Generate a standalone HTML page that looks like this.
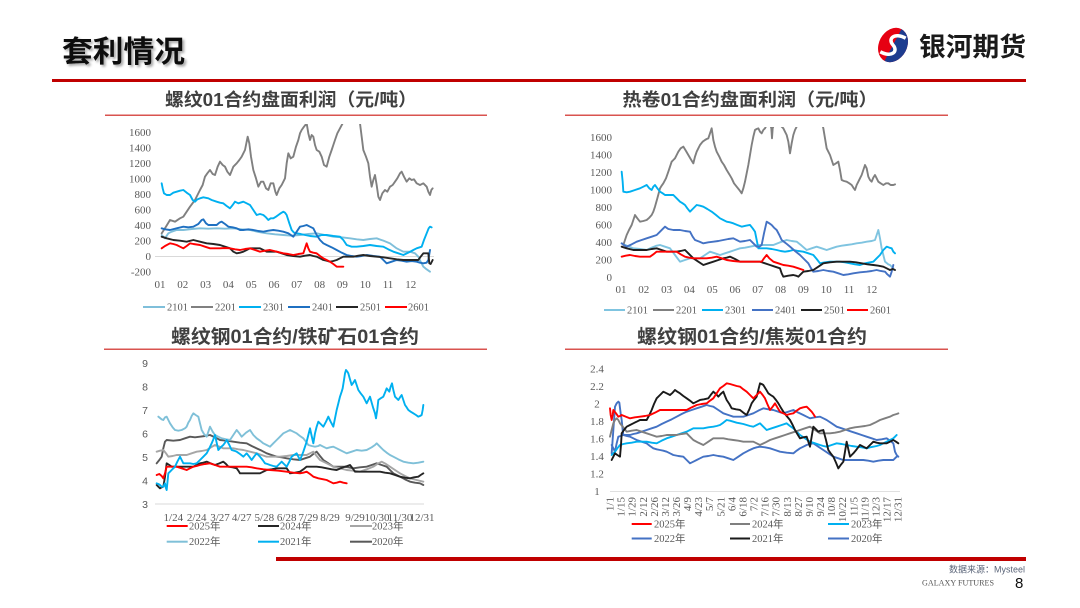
<!DOCTYPE html>
<html><head><meta charset="utf-8">
<style>
html,body{margin:0;padding:0;background:#fff;}
body{width:1080px;height:608px;overflow:hidden;}
svg{display:block;}
.ln polyline{fill:none;stroke-width:1.9;vector-effect:non-scaling-stroke;stroke-linejoin:round;stroke-linecap:round;}
.ax{font-family:"Liberation Serif","Noto Serif CJK SC",serif;font-size:11px;fill:#595959;}
.axs{font-family:"Liberation Sans",sans-serif;font-size:10.5px;fill:#595959;}
.lg{font-family:"Liberation Serif","Noto Sans CJK SC",serif;font-size:10.5px;fill:#595959;}
.st{font-family:"Liberation Sans","Noto Sans CJK SC",sans-serif;font-weight:bold;fill:#404040;}
</style></head>
<body>
<svg width="1080" height="608" viewBox="0 0 1080 608" xmlns="http://www.w3.org/2000/svg">
<defs>
<clipPath id="c1" clipPathUnits="userSpaceOnUse"><rect x="140" y="124" width="305" height="166"/></clipPath>
<clipPath id="c2" clipPathUnits="userSpaceOnUse"><rect x="600" y="127" width="305" height="170"/></clipPath>
<filter id="sh" x="-10%" y="-10%" width="130%" height="140%"><feDropShadow dx="2" dy="2" stdDeviation="1.2" flood-color="#000" flood-opacity="0.35"/></filter>
</defs>

<!-- Header -->
<text x="62" y="62" font-family="Liberation Sans, Noto Sans CJK SC, sans-serif" font-weight="bold" font-size="30" fill="#111" filter="url(#sh)" textLength="123" lengthAdjust="spacingAndGlyphs">套利情况</text>
<g transform="translate(893,45) rotate(28)">
  <ellipse rx="14" ry="18" fill="#E60012"/>
  <path d="M0,-18 A14,18 0 0,1 0,18 Z" fill="#1D3C8F"/>
  <path d="M8,-12 C-5,-12 -8,-3 0,0 C8,3 5,12 -8,12" stroke="#fff" stroke-width="3.5" fill="none"/>
</g>
<text x="919" y="56" font-family="Liberation Sans, Noto Sans CJK SC, sans-serif" font-weight="bold" font-size="26" fill="#1a1a1a" textLength="107" lengthAdjust="spacingAndGlyphs">银河期货</text>
<rect x="52" y="79" width="974" height="3" fill="#C00000"/>

<!-- Subtitles -->
<text class="st" x="291" y="106" font-size="18" text-anchor="middle" textLength="252" lengthAdjust="spacingAndGlyphs">螺纹01合约盘面利润（元/吨）</text>
<rect x="105" y="114.5" width="382" height="1.5" fill="#D9534F"/>
<text class="st" x="750" y="106" font-size="18" text-anchor="middle" textLength="255" lengthAdjust="spacingAndGlyphs">热卷01合约盘面利润（元/吨）</text>
<rect x="565" y="114.5" width="383" height="1.5" fill="#D9534F"/>
<text class="st" x="295" y="343" font-size="19" text-anchor="middle" textLength="248" lengthAdjust="spacingAndGlyphs">螺纹钢01合约/铁矿石01合约</text>
<rect x="104" y="348.5" width="383" height="1.5" fill="#D9534F"/>
<text class="st" x="752" y="343" font-size="19" text-anchor="middle" textLength="230" lengthAdjust="spacingAndGlyphs">螺纹钢01合约/焦炭01合约</text>
<rect x="565" y="348.5" width="383" height="1.5" fill="#D9534F"/>

<!-- ===== Chart 1: top-left ===== -->
<g class="ax" text-anchor="end">
<text x="151" y="136">1600</text><text x="151" y="151.5">1400</text><text x="151" y="167">1200</text><text x="151" y="182.5">1000</text><text x="151" y="198">800</text><text x="151" y="213.5">600</text><text x="151" y="229">400</text><text x="151" y="244.5">200</text><text x="151" y="260">0</text><text x="151" y="275.5">-200</text>
</g>
<g class="ax" text-anchor="middle">
<text x="160" y="288">01</text><text x="182.8" y="288">02</text><text x="205.6" y="288">03</text><text x="228.4" y="288">04</text><text x="251.2" y="288">05</text><text x="274" y="288">06</text><text x="296.8" y="288">07</text><text x="319.6" y="288">08</text><text x="342.4" y="288">09</text><text x="365.2" y="288">10</text><text x="388" y="288">11</text><text x="410.8" y="288">12</text>
</g>
<rect x="155" y="256" width="279" height="1" fill="#D9D9D9"/>
<g clip-path="url(#c1)"><g class="ln" transform="translate(150,120) scale(0.33333)">
<polyline stroke="#7FBFDA" points="35,345 45,355 55,340 65,335 80,330 100,330 125,327 150,325 175,326 200,325 225,326 250,325 275,328 300,330 325,336 350,340 375,343 400,345 425,347 450,345 475,342 500,340 525,345 550,350 575,352 600,355 620,358 640,360 660,357 680,355 700,362 720,370 740,385 760,395 780,395 795,400 805,410 812,425 820,440 830,448 840,455"/>
<polyline stroke="#808080" points="35,340 48,320 60,300 75,305 90,295 100,290 110,275 120,260 135,240 150,210 158,195 165,170 172,160 180,150 188,162 195,165 203,140 210,125 218,135 225,140 232,155 240,165 250,140 260,130 268,120 275,110 280,100 285,90 293,50 298,70 303,110 310,150 318,175 325,200 333,185 340,185 348,205 355,210 362,190 370,190 376,215 380,225 388,205 395,195 400,185 405,175 410,130 415,100 422,115 430,110 438,80 445,60 450,40 455,30 462,20 470,10 475,40 480,60 485,45 490,50 495,75 500,90 508,95 515,110 522,135 530,140 538,110 545,90 550,75 555,60 562,40 570,25 578,10 585,0 595,-30 610,-20 625,-5 630,10 635,50 640,90 648,110 655,130 660,170 665,200 670,180 675,165 680,195 685,230 690,240 697,220 705,210 712,215 720,200 728,195 735,185 742,175 750,160 755,155 762,170 770,185 778,175 785,180 792,178 800,190 810,195 820,190 830,200 835,215 840,225 844,210 848,205"/>
<polyline stroke="#00B0F0" points="35,190 38,205 42,220 50,225 60,225 70,218 80,215 90,212 100,210 110,218 120,225 128,240 135,245 142,238 150,235 160,232 175,235 185,240 200,245 210,248 220,250 230,258 240,265 248,255 255,245 265,250 280,245 290,250 300,255 310,270 320,285 330,282 340,285 348,292 355,300 362,295 370,295 378,290 385,285 392,280 400,275 405,278 410,285 418,310 425,330 432,338 440,340 452,342 465,345 480,348 500,350 515,345 530,345 550,348 570,350 580,360 590,375 605,380 620,380 640,378 660,375 680,378 700,380 715,388 730,395 745,400 760,405 775,398 790,390 800,385 815,380 822,360 830,340 836,325 840,320 845,322"/>
<polyline stroke="#1F70C1" points="35,325 45,328 60,330 80,325 100,320 115,322 130,320 145,312 155,300 160,298 168,310 175,315 185,315 200,315 208,308 215,305 225,312 235,320 248,322 260,325 270,330 280,330 295,328 310,330 325,333 340,335 355,332 370,330 385,332 400,335 415,340 430,350 440,335 450,320 460,318 470,315 480,320 490,325 500,345 510,360 520,370 530,375 545,382 560,390 575,398 590,405 605,408 620,410 635,408 650,405 670,408 690,410 700,420 710,430 725,425 740,420 755,422 770,425 785,423 800,425 810,428 820,430 830,428 835,420 840,390"/>
<polyline stroke="#262626" points="35,350 50,355 70,360 90,362 110,365 130,360 150,365 170,370 190,372 210,375 225,380 240,385 250,395 260,400 270,398 280,395 290,390 300,385 315,385 330,385 340,390 350,395 365,395 380,395 395,400 410,405 430,408 450,410 465,407 480,405 490,408 500,410 510,415 520,420 530,422 540,425 550,423 560,420 570,415 580,410 595,410 610,410 625,407 640,405 660,408 680,410 700,412 720,415 740,418 760,420 775,420 790,420 805,420 812,410 820,400 828,400 835,400 838,430 842,432 848,420"/>
<polyline stroke="#FF0000" points="35,385 45,378 60,370 70,372 80,375 90,380 100,385 110,378 120,370 130,372 150,375 165,380 180,385 195,385 210,385 225,384 240,385 255,388 270,390 285,387 300,385 315,390 330,395 345,392 360,390 380,395 400,400 415,402 430,405 445,402 460,400 465,385 470,370 475,385 480,395 490,398 500,400 510,408 520,415 530,420 540,425 550,432 560,440 570,440 580,440"/>
</g></g>
<g class="lg">
<rect x="143" y="306" width="22" height="2" fill="#7FBFDA"/><text x="167" y="310.5">2101</text>
<rect x="191" y="306" width="22" height="2" fill="#808080"/><text x="215" y="310.5">2201</text>
<rect x="239" y="306" width="22" height="2" fill="#00B0F0"/><text x="263" y="310.5">2301</text>
<rect x="288" y="306" width="22" height="2" fill="#1F70C1"/><text x="312" y="310.5">2401</text>
<rect x="336" y="306" width="22" height="2" fill="#262626"/><text x="360" y="310.5">2501</text>
<rect x="385" y="306" width="22" height="2" fill="#FF0000"/><text x="408" y="310.5">2601</text>
</g>

<!-- ===== Chart 2: top-right ===== -->
<g class="ax" text-anchor="end">
<text x="612" y="141">1600</text><text x="612" y="158.5">1400</text><text x="612" y="176">1200</text><text x="612" y="193.5">1000</text><text x="612" y="211">800</text><text x="612" y="228.5">600</text><text x="612" y="246">400</text><text x="612" y="263.5">200</text><text x="612" y="281">0</text>
</g>
<g class="ax" text-anchor="middle">
<text x="621" y="293">01</text><text x="643.8" y="293">02</text><text x="666.6" y="293">03</text><text x="689.4" y="293">04</text><text x="712.2" y="293">05</text><text x="735" y="293">06</text><text x="757.8" y="293">07</text><text x="780.6" y="293">08</text><text x="803.4" y="293">09</text><text x="826.2" y="293">10</text><text x="849" y="293">11</text><text x="871.8" y="293">12</text>
</g>
<g clip-path="url(#c2)"><g class="ln" transform="translate(560,115) scale(0.33333)">
<polyline stroke="#7FC4E0" points="185,385 200,392 220,400 240,402 260,405 275,398 290,392 300,390 315,395 330,400 345,420 360,440 375,435 390,430 405,430 420,430 435,420 450,410 465,415 480,420 495,415 510,410 525,405 540,400 555,398 570,395 585,392 600,390 620,390 640,390 660,382 680,375 695,378 710,380 725,392 740,405 755,400 770,395 785,400 800,405 815,400 830,395 845,392 860,390 875,388 890,385 905,383 920,380 935,378 945,375 950,360 955,345 960,370 965,400 970,420 975,440 985,448 990,450 1000,460"/>
<polyline stroke="#808080" points="190,390 195,375 200,360 207,345 215,330 220,315 225,300 232,310 240,320 250,318 260,315 268,308 275,300 280,290 285,275 292,250 300,220 305,212 310,205 318,190 325,170 330,155 335,140 340,135 345,130 350,120 355,110 362,100 370,95 378,108 385,120 392,132 400,145 405,125 410,110 415,100 420,90 428,80 435,75 440,72 445,70 450,55 455,40 458,60 460,75 465,95 470,110 478,125 485,140 492,150 500,165 508,178 515,190 522,205 530,215 538,225 545,235 550,220 555,200 560,175 565,150 570,120 575,90 580,65 585,45 590,42 595,40 600,50 605,55 610,45 615,40 620,30 628,20 634,40 636,70 638,40 645,20 660,30 670,40 675,50 680,60 685,80 690,115 695,85 700,60 705,45 710,35 720,10 760,0 785,20 790,40 795,70 800,100 805,110 810,120 815,135 820,150 828,145 835,140 840,165 845,195 852,198 860,200 868,205 875,210 880,218 885,225 890,210 895,200 900,190 905,180 910,165 915,150 920,160 925,185 930,195 935,200 940,188 945,180 950,190 955,200 962,205 970,210 978,205 985,205 992,210 1000,210 1005,208"/>
<polyline stroke="#00B0F0" points="185,170 188,200 190,230 200,232 210,230 225,225 240,220 250,215 260,210 268,220 275,225 280,215 285,210 292,220 300,230 308,235 315,240 328,240 340,240 350,250 360,260 368,265 375,270 382,280 390,290 398,282 410,270 420,272 430,275 442,282 455,290 468,300 480,310 490,315 500,320 510,322 520,325 532,330 545,335 558,332 570,330 578,340 585,350 590,375 595,400 605,400 620,400 635,402 650,405 662,408 675,410 688,408 700,405 715,408 730,410 745,415 760,420 770,432 780,445 795,442 810,440 825,440 840,440 855,442 870,445 885,448 900,450 915,445 930,442 940,440 950,430 960,420 970,405 980,395 988,398 995,400 1000,410 1005,415"/>
<polyline stroke="#4472C4" points="185,385 192,390 200,395 215,388 230,380 245,375 260,370 275,365 290,360 300,350 310,340 315,335 325,342 340,345 350,345 360,345 375,348 390,350 398,365 405,375 418,380 430,385 445,382 460,380 475,378 490,375 505,372 520,370 530,375 540,380 555,378 570,375 580,385 590,395 598,395 605,390 612,355 620,320 628,325 635,330 642,338 650,345 658,360 665,375 678,385 690,395 705,408 720,420 732,432 745,445 752,458 760,470 775,468 790,465 805,468 820,470 835,475 850,480 865,478 880,475 900,472 920,470 935,468 950,465 962,468 975,470 982,478 990,485 995,470 1000,450"/>
<polyline stroke="#1F1F1F" points="185,395 200,400 220,405 240,405 260,405 275,402 290,400 305,405 320,410 335,410 350,410 362,408 375,405 385,415 400,430 415,440 430,450 445,445 460,440 475,435 490,430 500,428 510,425 525,432 540,440 555,440 570,440 585,440 600,440 615,445 630,450 645,455 660,460 665,475 670,485 685,482 700,480 708,482 715,485 722,478 730,470 745,468 760,465 775,455 790,445 810,442 830,440 850,440 870,440 888,442 905,445 922,448 940,450 955,452 970,455 980,460 990,465 998,462 1005,465"/>
<polyline stroke="#FF0000" points="185,425 197,422 210,420 225,423 240,425 255,425 270,425 280,418 290,410 305,410 320,410 335,410 350,410 362,418 375,425 388,428 400,430 420,430 440,430 455,428 470,425 485,430 500,435 520,438 540,440 560,440 580,440 595,440 605,440 612,430 620,420 628,430 640,440 655,445 670,450 685,452 700,455 715,460 730,465"/>
</g></g>
<g class="lg">
<rect x="604" y="309" width="21" height="2" fill="#7FC4E0"/><text x="627" y="313.5">2101</text>
<rect x="653" y="309" width="21" height="2" fill="#808080"/><text x="676" y="313.5">2201</text>
<rect x="702" y="309" width="21" height="2" fill="#00B0F0"/><text x="725" y="313.5">2301</text>
<rect x="752" y="309" width="21" height="2" fill="#4472C4"/><text x="775" y="313.5">2401</text>
<rect x="801" y="309" width="21" height="2" fill="#1F1F1F"/><text x="824" y="313.5">2501</text>
<rect x="847" y="309" width="21" height="2" fill="#FF0000"/><text x="870" y="313.5">2601</text>
</g>

<!-- ===== Chart 3: bottom-left ===== -->
<g class="axs" text-anchor="middle">
<text x="145" y="367">9</text><text x="145" y="390.5">8</text><text x="145" y="414">7</text><text x="145" y="437.5">6</text><text x="145" y="461">5</text><text x="145" y="484.5">4</text><text x="145" y="508">3</text>
</g>
<rect x="155" y="503.5" width="269" height="1" fill="#D9D9D9"/>
<g class="ax" text-anchor="middle" font-size="10.5">
<text x="173.3" y="521">1/24</text><text x="196.7" y="521">2/24</text><text x="220" y="521">3/27</text><text x="241.7" y="521">4/27</text><text x="264.3" y="521">5/28</text><text x="286.7" y="521">6/28</text><text x="308.3" y="521">7/29</text><text x="330" y="521">8/29</text><text x="355" y="521">9/29</text><text x="377" y="521">10/30</text><text x="400" y="521">11/30</text><text x="422" y="521">12/31</text>
</g>
<g class="ln" transform="translate(100,320) scale(0.33333)">
<polyline stroke="#595959" points="170,430 178,420 185,410 190,385 195,365 200,360 220,362 240,360 255,355 270,350 285,352 300,350 315,348 330,345 345,352 360,360 380,362 400,365 420,368 440,370 455,378 470,385 485,392 500,400 515,405 530,410 545,412 560,415 580,418 600,420 615,415 630,410 640,402 650,395 660,408 670,420 685,430 700,440 715,440 730,440 745,442 760,445 780,442 800,440 815,435 830,430 845,435 860,440 870,450 880,460 890,465 900,470 915,478 930,485 945,488 960,490 970,495"/>
<polyline stroke="#A6A6A6" points="170,395 180,392 190,390 198,400 205,410 218,408 230,405 245,405 260,405 275,400 290,395 305,393 320,390 333,382 345,375 358,380 370,385 385,385 400,385 415,388 430,390 450,395 470,400 485,405 500,410 520,410 540,410 560,408 580,405 600,405 620,405 630,400 640,395 650,408 660,420 680,430 700,440 720,445 740,450 760,452 780,455 800,448 820,440 835,430 845,425 858,432 870,440 885,450 900,460 915,468 930,475 950,480 970,485"/>
<polyline stroke="#7FC0D8" points="175,290 185,298 190,300 195,292 200,290 205,300 210,310 218,322 225,330 235,332 245,330 255,325 260,320 265,308 270,300 275,288 280,280 287,285 295,290 300,310 305,330 312,342 320,350 325,335 330,320 338,335 345,345 355,350 365,355 378,358 390,360 400,345 410,330 418,340 425,350 438,338 450,330 460,345 470,355 480,362 490,370 500,375 510,380 520,370 530,360 540,350 550,340 560,335 570,330 580,335 590,340 600,348 610,355 618,365 625,375 635,378 645,380 655,378 660,375 670,380 680,385 690,382 700,380 710,385 720,390 730,395 740,400 755,395 770,390 785,392 800,390 815,382 825,375 830,370 840,380 850,390 860,398 870,405 880,410 895,418 910,425 925,428 940,430 955,428 970,425"/>
<polyline stroke="#262626" points="170,495 175,500 180,505 185,502 190,500 195,470 200,430 208,435 215,440 230,440 245,440 260,440 280,440 290,435 300,430 310,428 320,425 332,430 345,435 358,430 370,425 378,432 385,440 398,442 410,445 415,452 420,460 435,460 450,460 465,460 480,460 490,455 500,450 515,448 530,445 545,445 560,445 565,452 570,460 585,458 600,455 610,448 620,440 635,440 650,440 665,442 680,445 695,448 710,450 722,445 735,440 742,438 750,435 758,445 765,455 780,455 800,455 820,455 840,455 855,458 870,460 885,465 900,470 915,473 930,475 942,472 955,470 962,465 970,460"/>
<polyline stroke="#FF0000" points="170,465 178,462 185,468 190,475 195,460 200,440 215,440 230,440 245,445 260,450 270,445 280,440 290,438 300,435 315,432 330,430 345,435 360,440 380,440 400,440 420,440 440,440 455,442 470,445 490,448 510,450 535,452 560,455 580,458 600,460 610,458 620,455 630,462 640,470 655,475 670,478 680,480 690,485 700,490 710,488 720,485 730,488 740,490"/>
<polyline stroke="#00B0F0" points="170,490 175,492 180,495 185,500 190,500 195,490 198,505 200,510 203,480 205,460 210,455 215,450 220,445 225,440 232,425 240,410 245,420 250,430 260,430 270,430 280,432 290,430 300,420 310,410 320,400 328,385 335,370 340,358 345,345 350,368 355,390 362,382 370,375 375,368 380,360 388,375 395,390 402,392 410,395 420,402 430,410 435,405 440,400 448,410 455,420 462,410 470,400 475,405 480,410 488,420 495,430 502,432 510,435 520,438 530,440 538,432 545,425 552,432 560,440 568,425 575,410 582,405 590,400 595,410 600,420 605,408 610,395 615,380 620,365 625,345 630,325 635,348 640,370 645,340 650,320 655,305 662,312 670,320 678,305 685,290 692,305 700,320 705,295 710,270 715,250 720,230 725,215 728,205 732,180 735,160 738,150 742,155 745,160 750,178 755,195 760,188 765,180 770,195 775,210 782,220 790,230 795,240 800,250 805,240 810,230 815,248 820,265 825,280 828,295 832,268 835,240 842,235 850,230 855,218 860,205 864,210 868,215 872,200 876,190 880,210 885,230 890,235 895,240 900,232 905,225 910,240 915,255 920,262 925,270 932,275 940,280 948,285 955,290 960,288 965,285 968,270 970,255"/>
</g>
<g class="lg" font-size="10">
<rect x="166.7" y="525" width="21" height="2" fill="#FF0000"/><text x="189" y="529.5">2025年</text>
<rect x="258" y="525" width="21" height="2" fill="#262626"/><text x="280" y="529.5">2024年</text>
<rect x="350" y="525" width="22" height="2" fill="#A6A6A6"/><text x="372" y="529.5">2023年</text>
<rect x="166.7" y="540.7" width="21" height="2" fill="#7FC0D8"/><text x="189" y="545">2022年</text>
<rect x="258" y="540.7" width="21" height="2" fill="#00B0F0"/><text x="280" y="545">2021年</text>
<rect x="350" y="540.7" width="22" height="2" fill="#595959"/><text x="372" y="545">2020年</text>
</g>

<!-- ===== Chart 4: bottom-right ===== -->
<g class="ax" text-anchor="middle">
<text x="597" y="372.5">2.4</text><text x="597" y="390">2.2</text><text x="597" y="407.6">2</text><text x="597" y="425.1">1.8</text><text x="597" y="442.6">1.6</text><text x="597" y="460.2">1.4</text><text x="597" y="477.7">1.2</text><text x="597" y="495.2">1</text>
</g>
<rect x="610" y="491" width="290" height="1" fill="#E0E0E0"/>
<g class="ax" text-anchor="end" font-size="10">
<text transform="translate(613.5,497) rotate(-90)">1/1</text>
<text transform="translate(624.6,497) rotate(-90)">1/15</text>
<text transform="translate(635.7,497) rotate(-90)">1/29</text>
<text transform="translate(646.8,497) rotate(-90)">2/12</text>
<text transform="translate(657.8,497) rotate(-90)">2/26</text>
<text transform="translate(668.9,497) rotate(-90)">3/12</text>
<text transform="translate(680,497) rotate(-90)">3/26</text>
<text transform="translate(691.1,497) rotate(-90)">4/9</text>
<text transform="translate(702.2,497) rotate(-90)">4/23</text>
<text transform="translate(713.2,497) rotate(-90)">5/7</text>
<text transform="translate(724.3,497) rotate(-90)">5/21</text>
<text transform="translate(735.4,497) rotate(-90)">6/4</text>
<text transform="translate(746.5,497) rotate(-90)">6/18</text>
<text transform="translate(757.5,497) rotate(-90)">7/2</text>
<text transform="translate(768.6,497) rotate(-90)">7/16</text>
<text transform="translate(779.7,497) rotate(-90)">7/30</text>
<text transform="translate(790.8,497) rotate(-90)">8/13</text>
<text transform="translate(801.9,497) rotate(-90)">8/27</text>
<text transform="translate(812.9,497) rotate(-90)">9/10</text>
<text transform="translate(824,497) rotate(-90)">9/24</text>
<text transform="translate(835.1,497) rotate(-90)">10/8</text>
<text transform="translate(846.2,497) rotate(-90)">10/22</text>
<text transform="translate(857.3,497) rotate(-90)">11/5</text>
<text transform="translate(868.3,497) rotate(-90)">11/19</text>
<text transform="translate(879.4,497) rotate(-90)">12/3</text>
<text transform="translate(890.5,497) rotate(-90)">12/17</text>
<text transform="translate(901.6,497) rotate(-90)">12/31</text>
</g>
<g class="ln" transform="translate(560,320) scale(0.33333)">
<polyline stroke="#4472C4" points="155,400 160,330 165,260 170,250 175,245 178,248 182,280 185,300 188,330 190,345 200,345 210,345 220,342 230,340 245,335 260,330 275,325 290,320 305,312 320,305 335,298 350,290 365,282 380,275 395,270 410,265 425,260 440,255 450,258 460,260 475,270 490,280 505,285 520,290 535,290 550,290 565,285 580,280 595,272 610,265 625,268 640,270 655,275 670,280 685,275 700,270 715,278 730,285 740,290 750,295 765,292 780,290 790,295 800,300 815,310 830,320 845,325 860,330 875,335 890,340 905,345 920,350 935,355 950,360 965,358 980,355 990,362 1000,370 1003,385 1005,395 1010,405 1015,410"/>
<polyline stroke="#4472C4" points="155,375 160,385 165,395 170,370 175,350 182,348 190,345 200,348 210,350 220,355 230,360 245,365 260,370 270,378 280,385 290,388 300,390 310,392 320,395 330,400 340,405 355,408 370,410 380,420 390,430 400,425 410,420 420,415 430,410 445,408 460,405 475,408 490,410 505,415 520,420 535,410 550,400 565,392 580,385 590,382 600,380 615,382 630,385 645,390 660,395 680,398 700,400 710,392 720,385 730,380 740,375 750,372 760,370 775,380 790,390 805,400 820,410 835,415 850,420 865,420 880,420 895,420 910,420 925,422 940,425 955,422 970,420 985,420 1000,420 1005,415 1010,410"/>
<polyline stroke="#00B0F0" points="155,405 160,400 165,395 172,385 180,375 190,372 200,370 215,368 230,365 245,365 260,365 275,368 290,370 305,362 320,355 335,350 350,345 365,340 380,335 390,330 400,325 415,325 430,325 445,322 460,320 470,318 480,315 490,308 500,300 510,302 520,305 530,308 540,310 550,312 560,315 570,318 580,320 590,315 600,310 610,320 620,330 635,325 650,320 665,315 680,310 690,318 700,325 710,335 720,345 735,355 750,365 765,370 780,375 790,378 800,380 815,375 830,370 845,372 860,375 875,378 890,380 905,382 920,385 930,382 940,380 950,378 960,375 970,370 980,365 990,360 1000,355 1005,350 1010,345"/>
<polyline stroke="#7F7F7F" points="150,350 155,330 160,310 165,300 170,295 175,300 180,310 190,322 200,335 215,332 230,330 245,335 260,340 275,345 290,350 305,348 320,345 335,345 350,345 365,342 380,340 390,350 400,360 415,368 430,375 445,365 460,355 475,355 490,355 505,358 520,360 535,362 550,365 565,365 580,365 590,370 600,375 615,368 630,360 645,355 660,350 675,345 690,340 705,335 720,330 735,325 750,320 765,330 780,340 795,340 810,340 825,338 840,335 855,330 870,325 885,322 900,320 915,318 930,315 945,308 960,300 975,295 990,290 1000,285 1010,282 1015,280"/>
<polyline stroke="#1A1A1A" points="155,420 160,410 165,400 172,405 180,410 183,375 185,340 192,330 200,320 210,315 220,310 230,305 240,300 250,300 260,300 268,285 275,270 282,252 290,235 300,225 310,215 320,220 330,225 338,218 345,210 352,215 360,220 370,228 380,235 390,242 400,250 410,245 420,240 432,238 445,235 452,225 460,215 468,222 475,230 482,222 490,215 495,228 500,240 508,252 515,265 528,268 540,270 550,278 560,285 568,268 575,250 582,240 590,230 595,210 600,190 605,192 610,195 618,208 625,220 632,225 640,230 648,240 655,250 662,262 670,275 680,288 690,300 698,315 705,330 712,342 720,355 730,352 740,350 745,365 750,380 755,350 760,320 768,328 775,335 782,332 790,330 798,360 805,390 812,400 820,410 828,428 835,445 842,435 850,425 855,395 860,365 865,388 870,410 875,405 880,400 890,388 900,375 910,380 920,385 930,375 940,365 950,368 960,370 970,370 980,370 990,365 1000,360 1008,365 1015,370"/>
<polyline stroke="#FF0000" points="150,265 152,285 155,300 158,285 160,270 168,280 175,290 180,288 185,285 197,290 210,295 225,292 240,290 255,288 270,285 285,278 300,270 315,270 330,270 345,270 360,270 370,270 380,270 395,262 410,255 425,252 440,250 450,242 460,235 470,220 480,205 490,198 500,190 510,192 520,195 530,198 540,200 550,208 560,215 570,225 580,235 590,225 600,215 608,225 615,235 622,252 630,270 638,260 645,250 652,262 660,275 670,280 680,285 690,282 700,280 710,272 720,265 730,262 740,260 748,268 755,275 760,282 765,290"/>
</g>
<g class="lg" font-size="10">
<rect x="631.7" y="523" width="20" height="2" fill="#FF0000"/><text x="654" y="527.5">2025年</text>
<rect x="730" y="523" width="20" height="2" fill="#7F7F7F"/><text x="752" y="527.5">2024年</text>
<rect x="828" y="523" width="21" height="2" fill="#00B0F0"/><text x="851" y="527.5">2023年</text>
<rect x="631.7" y="537.5" width="20" height="2" fill="#4472C4"/><text x="654" y="542">2022年</text>
<rect x="730" y="537.5" width="20" height="2" fill="#1A1A1A"/><text x="752" y="542">2021年</text>
<rect x="828" y="537.5" width="21" height="2" fill="#4472C4"/><text x="851" y="542">2020年</text>
</g>

<!-- Footer -->
<rect x="276" y="557" width="750" height="4" fill="#C00000"/>
<text x="1025" y="572.5" text-anchor="end" font-family="Liberation Sans, Noto Sans CJK SC, sans-serif" font-size="9" fill="#5A6478">数据来源：Mysteel</text>
<text x="922" y="585.5" font-family="Liberation Serif, serif" font-size="8" fill="#555" textLength="72" lengthAdjust="spacingAndGlyphs">GALAXY FUTURES</text>
<text x="1015" y="588" font-family="Liberation Sans, sans-serif" font-size="15" fill="#111">8</text>
</svg>
</body></html>
